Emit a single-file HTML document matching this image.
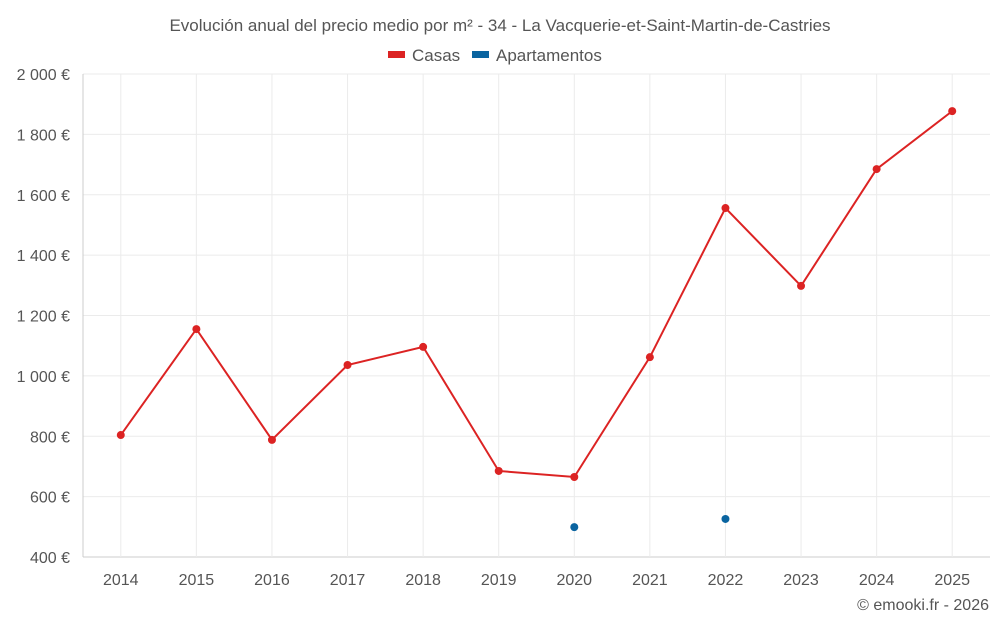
<!DOCTYPE html>
<html><head><meta charset="utf-8"><style>
body{margin:0;background:#fff;font-family:"Liberation Sans",sans-serif;}
svg text{font-family:"Liberation Sans",sans-serif;fill:#555;}
</style></head><body>
<svg id="c" width="1000" height="625">
<text x="500" y="31" text-anchor="middle" font-size="17">Evolución anual del precio medio por m² - 34 - La Vacquerie-et-Saint-Martin-de-Castries</text>
<g>
<g><rect x="388" y="51" width="17" height="7" fill="#dc2323"/><text x="412" y="61" font-size="17">Casas</text></g>
<g><rect x="472" y="51" width="17" height="7" fill="#0a64a0"/><text x="496" y="61" font-size="17">Apartamentos</text></g>
</g>
<g id="grid"></g><g id="axes"></g><g id="marks"></g>
<text x="989" y="610" text-anchor="end" font-size="16">© emooki.fr - 2026</text>
</svg>
<script>
const years=["2014","2015","2016","2017","2018","2019","2020","2021","2022","2023","2024","2025"];
const casas=[804,1155,788,1036,1096,685,665,1062,1556,1298,1685,1877];
const apartamentos=[null,null,null,null,null,null,499,null,526,null,null,null];
const yTicks=[400,600,800,1000,1200,1400,1600,1800,2000];
const yTickLabels=["400 €","600 €","800 €","1 000 €","1 200 €","1 400 €","1 600 €","1 800 €","2 000 €"];
const NS="http://www.w3.org/2000/svg";
const L=83,R=990,T=74,B=557,ymin=400,ymax=2000;
const bw=(R-L)/years.length;
const x=i=>L+bw*(i+0.5);
const y=v=>B-(v-ymin)/(ymax-ymin)*(B-T);
function mk(tag,attrs,parent){const e=document.createElementNS(NS,tag);for(const k in attrs)e.setAttribute(k,attrs[k]);document.getElementById(parent).appendChild(e);return e;}
yTicks.forEach((v,i)=>{
 const g=mk('line',{x1:L,x2:R,y1:y(v),y2:y(v),stroke:i==0?'#ccc':'#ebebeb','stroke-width':1},'grid');
 
 
 const t=mk('text',{x:70,y:y(v)+6,'text-anchor':'end','font-size':16},'axes');
 t.textContent=yTickLabels[i];
 
 
});
years.forEach((yr,i)=>{
 const g=mk('line',{x1:x(i),x2:x(i),y1:T,y2:B,stroke:'#ebebeb','stroke-width':1},'grid');
 
 
 const t=mk('text',{x:x(i),y:585,'text-anchor':'middle','font-size':16},'axes');
 t.textContent=yr;
 
 
});
mk('line',{x1:L,x2:L,y1:T,y2:B,stroke:'#ccc'},'axes');
const p=mk('polyline',{points:casas.map((v,i)=>x(i)+','+y(v)).join(' '),fill:'none',stroke:'#dc2323','stroke-width':2},'marks');


casas.forEach((v,i)=>{
 const c=mk('circle',{cx:x(i),cy:y(v),r:4,fill:'#dc2323'},'marks');
 
 
});
apartamentos.forEach((v,i)=>{
 if(v==null)return;
 const c=mk('circle',{cx:x(i),cy:y(v),r:4,fill:'#0a64a0'},'marks');
 
 
});
</script>
</body></html>
